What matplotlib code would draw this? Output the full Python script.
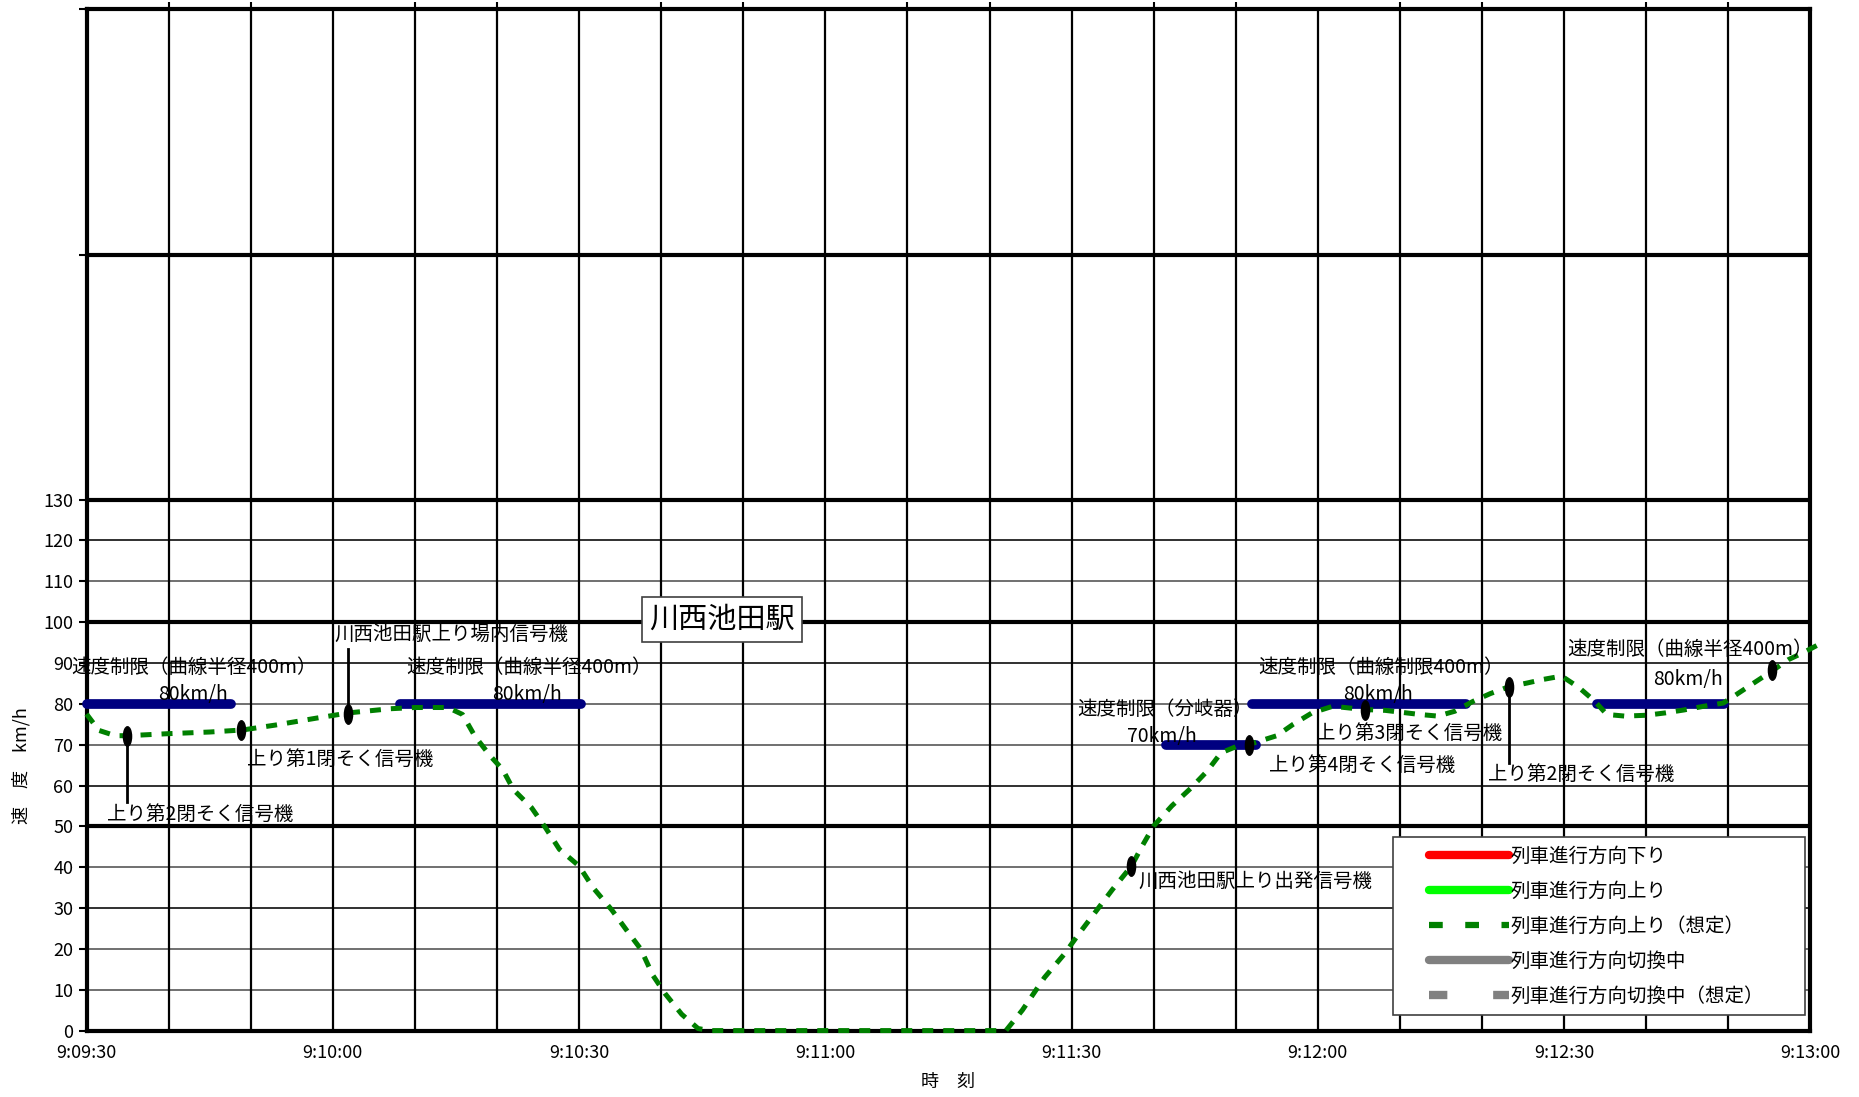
import numpy as np
import matplotlib
matplotlib.use("Agg")
import matplotlib.pyplot as plt
from matplotlib.lines import Line2D
from matplotlib.legend_handler import HandlerLine2D
from matplotlib.path import Path
from matplotlib.transforms import Affine2D

plt.rcParams['font.family'] = ['Noto Sans CJK JP', 'DejaVu Sans']

# seconds after 9:09:30 and speed (km/h) of the assumed up-direction run
run_t = [0, 1.5, 3.5, 5, 10, 15, 19, 23, 28, 32, 37, 40, 44, 45.8, 47.3, 49.2, 50.7, 52,
         54.2, 55.9, 57.6, 60, 61.7, 64, 66, 67.5, 69, 70.5, 72.5, 74.5, 76, 112, 114,
         116.7, 119.1, 121, 123, 125, 127.3, 128.6, 130, 132.2, 134.5, 136.5, 138.2, 140,
         142, 145, 147, 149.3, 151.8, 155.7, 158.2, 162.4, 164.6, 166.7, 168.9, 171,
         173.3, 175.5, 177.5, 179.7, 181.8, 183.7, 185.2, 187.4, 190, 192.4, 194.6, 197,
         199.4, 201, 202.8, 205.3, 207.3, 209.1, 210.8]
run_v = [77.5, 73.5, 72.2, 72.2, 72.7, 73.1, 73.6, 74.8, 76.5, 77.8, 78.8, 79.1, 79.1, 77.4,
         72.1, 67.2, 63.9, 59, 54.6, 49.7, 44.4, 40.3, 35, 29.5, 24, 20, 13.5, 9, 4, 0.5, 0,
         0, 5, 13, 18.7, 24, 29.3, 34.6, 40.3, 45.2, 50.1, 55, 59.3, 63.5, 68, 69.5, 70.3,
         72.2, 75, 77.8, 79.4, 78.6, 78.4, 77.4, 77, 78.2, 80.6, 82.5, 84.2, 85.1, 86, 86.8,
         84, 80.7, 77.4, 77, 77.2, 77.8, 78.5, 79.4, 80.2, 82.3, 84.7, 88, 90.8, 92.5, 94.3]

# speed limits: start, end, limit
limit_start = [0, 38.2, 131.5, 142, 184]
limit_end = [17.6, 60.2, 142.5, 168, 199.5]
limit_speed = [80, 80, 70, 80, 80]
limit_names = ['速度制限（曲線半径400m）', '速度制限（曲線半径400m）', '速度制限（分岐器）',
               '速度制限（曲線制限400m）', '速度制限（曲線半径400m）']
limit_kmh = ['80km/h', '80km/h', '70km/h', '80km/h', '80km/h']
name_pos = [(-1.9, 88.8), (39, 88.8), (120.7, 78.6), (142.7, 88.8), (180.4, 93.2)]
kmh_pos = [(13, 82.4), (53.7, 82.4), (131, 72), (157.3, 82.4), (195.1, 86)]

# signals: time, speed, leader end, label, label position
sig_t = [4.9, 18.8, 31.8, 127.2, 141.6, 155.7, 173.3, 205.3]
sig_v = [72.2, 73.6, 77.6, 40.3, 70, 78.5, 84.2, 88.2]
sig_lead = [56, None, 93.5, None, None, None, 65.5, None]
sig_names = ['上り第2閉そく信号機', '上り第1閉そく信号機', '川西池田駅上り場内信号機',
             '川西池田駅上り出発信号機', '上り第4閉そく信号機', '上り第3閉そく信号機',
             '上り第2閉そく信号機', '']
sig_label_pos = [(2.5, 53), (19.5, 66.5), (30.2, 97), (128.1, 36.6), (144, 65),
                 (149.8, 72.8), (170.7, 62.7), (0, 0)]

x_ticks = [0, 30, 60, 90, 120, 150, 180, 210]
x_labels = ['9:09:30', '9:10:00', '9:10:30', '9:11:00', '9:11:30', '9:12:00', '9:12:30', '9:13:00']

fig = plt.figure(figsize=(18.59, 10.97), dpi=100)
ax = fig.add_axes([73 / 1568, 1 - 869 / 925, (1527 - 73) / 1568, (869 - 8) / 925])
ax.set_xlim(0, 210)
ax.set_ylim(0, 250)

# grid
for v in range(10, 130, 10):
    if v not in (50, 100):
        ax.axhline(v, color='#707070' if v % 30 else '#303030', lw=1.4, zorder=1)
for v in [50, 100, 130, 190]:
    ax.axhline(v, color='black', lw=3, zorder=1)
for t in range(10, 210, 10):
    ax.axvline(t, color='black', lw=1.6, zorder=1)
for s in ax.spines.values():
    s.set_linewidth(3)

ax.set_yticks(list(range(0, 140, 10)) + [190, 250])
ax.set_yticklabels([str(v) for v in range(0, 140, 10)] + ['', ''], fontsize=13)
ax.set_xticks(x_ticks)
ax.set_xticklabels(x_labels, fontsize=13)
ax.set_xticks(range(0, 220, 10), minor=True)
ax.tick_params(axis='y', length=6, width=1.5, direction='out')
ax.tick_params(axis='x', which='major', length=0, pad=10)
ax.tick_params(axis='x', which='minor', top=True, bottom=False, length=5, width=1.5)

# speed limit bars
for a, b, v in zip(limit_start, limit_end, limit_speed):
    ax.plot([a, b], [v, v], color='#000080', lw=7, solid_capstyle='round', zorder=3, clip_on=False)
for name, (x, y) in zip(limit_names, name_pos):
    ax.text(x, y, name, fontsize=14, ha='left', va='center', zorder=5, clip_on=False)
for k, (x, y) in zip(limit_kmh, kmh_pos):
    ax.text(x, y, k, fontsize=14, ha='center', va='center', zorder=5)

# assumed run
ax.plot(run_t, run_v, color='#008000', lw=3.6, linestyle=(0, (2.2, 2.0)), zorder=4, clip_on=False)

# signals
ell = Path.unit_circle().transformed(Affine2D().scale(0.42, 1.0))
for t, v, lead in zip(sig_t, sig_v, sig_lead):
    if lead is not None:
        ax.plot([t, t], [v, lead], color='black', lw=2, zorder=5)
ax.plot(sig_t, sig_v, linestyle='none', marker=ell, markersize=14, color='black', zorder=6)
for name, (x, y) in zip(sig_names, sig_label_pos):
    if name:
        ax.text(x, y, name, fontsize=14, ha='left', va='center', zorder=5)

ax.text(77.4, 100.7, '川西池田駅', fontsize=21, ha='center', va='center', zorder=7,
        bbox=dict(boxstyle='square,pad=0.25', facecolor='white', edgecolor='#404040', lw=1.2))

ax.text(0.5, -0.05, '時　刻', transform=ax.transAxes, fontsize=13, ha='center', va='center')
ax.text(-0.038, 0.26, '速　度　km/h', transform=ax.transAxes, fontsize=13, ha='center',
        va='center', rotation=90)

handles = [
    Line2D([], [], color='red', lw=6, solid_capstyle='round'),
    Line2D([], [], color='#00ff00', lw=6, solid_capstyle='round'),
    Line2D([], [], color='#008000', lw=4.5, linestyle=(0, (2.2, 3.6))),
    Line2D([], [], color='#808080', lw=6, solid_capstyle='round'),
    Line2D([], [], color='#808080', lw=6, linestyle=(0, (2.2, 5.5))),
]
labels = ['列車進行方向下り', '列車進行方向上り', '列車進行方向上り（想定）',
          '列車進行方向切換中', '列車進行方向切換中（想定）']
leg = ax.legend(handles, labels, loc='lower left', bbox_to_anchor=(0.758, 0.015, 0.239, 0.178),
                mode='expand', fontsize=14, handlelength=5.5, handletextpad=0.1,
                labelspacing=0.72, borderpad=0.45, borderaxespad=0, fancybox=False,
                framealpha=1, edgecolor='#404040',
                handler_map={Line2D: HandlerLine2D(xpad=1.38)})
leg.get_frame().set_linewidth(1.2)
leg.set_zorder(10)

fig.savefig('out.png', dpi=100)
